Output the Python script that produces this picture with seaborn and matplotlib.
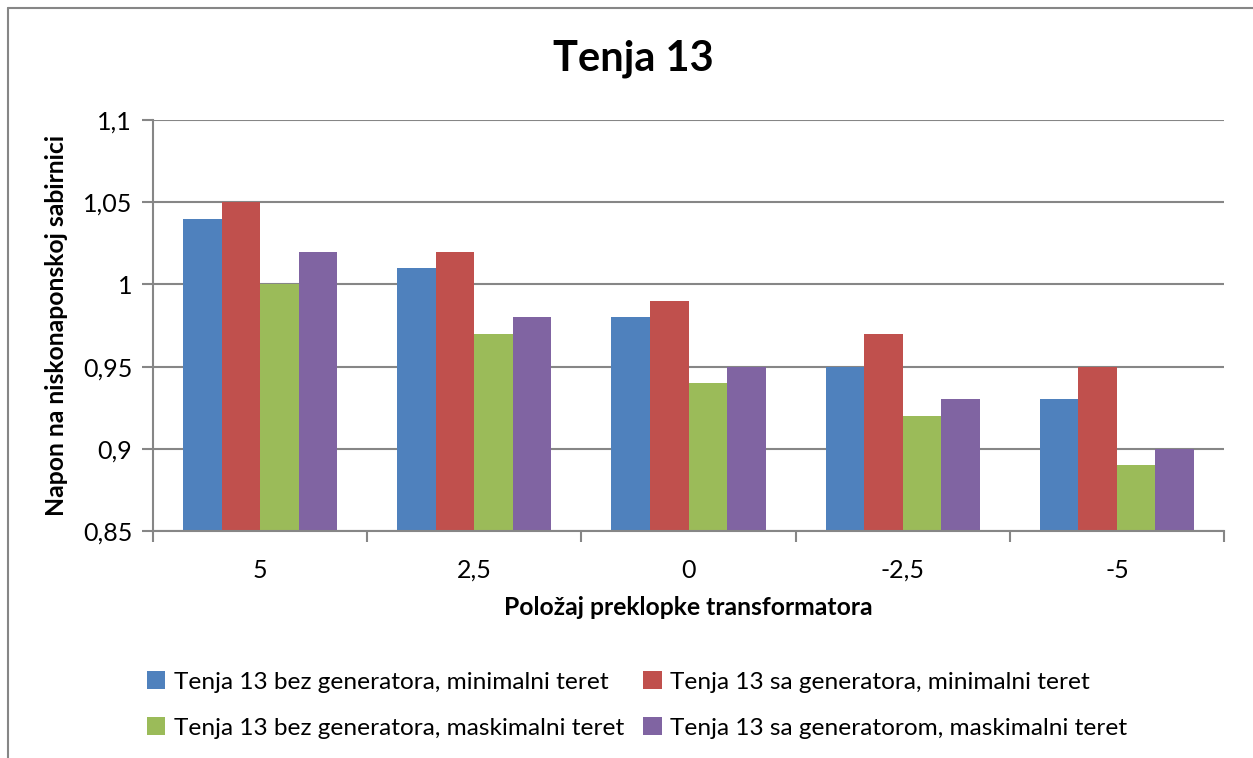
import matplotlib
matplotlib.use("Agg")
import matplotlib.pyplot as plt
from matplotlib.lines import Line2D
from matplotlib.patches import Patch
from matplotlib.ticker import FixedLocator, FuncFormatter
import seaborn as sns
import pandas as pd

categories = ["5", "2,5", "0", "-2,5", "-5"]
series_names = [
    "Tenja 13 bez generatora, minimalni teret",
    "Tenja 13 sa generatora, minimalni teret",
    "Tenja 13 bez generatora, maskimalni teret",
    "Tenja 13 sa generatorom, maskimalni teret",
]
bez_min = [1.04, 1.01, 0.98, 0.95, 0.93]
sa_min = [1.05, 1.02, 0.99, 0.97, 0.95]
bez_max = [1.00, 0.97, 0.94, 0.92, 0.89]
sa_max = [1.02, 0.98, 0.95, 0.93, 0.90]
y_ticks = [0.85, 0.9, 0.95, 1.0, 1.05, 1.1]

colors = ["#4F81BD", "#C0504D", "#9BBB59", "#8064A2"]

rows = []
for name, vals in zip(series_names, [bez_min, sa_min, bez_max, sa_max]):
    for c, v in zip(categories, vals):
        rows.append({"cat": c, "val": v, "series": name})
df = pd.DataFrame(rows)

sns.set_style("white")
plt.rcParams["font.family"] = ["Lato", "DejaVu Sans"]
plt.rcParams["text.color"] = "black"
plt.rcParams["xtick.color"] = "black"
plt.rcParams["ytick.color"] = "black"
plt.rcParams["axes.labelcolor"] = "black"

fig = plt.figure(figsize=(12.53, 7.58), dpi=100)
W, H = 1253, 758
ax = fig.add_axes([153 / W, 1 - 531 / H, (1224 - 153) / W, (531 - 120) / H])

sns.barplot(data=df, x="cat", y="val", hue="series", order=categories,
            hue_order=series_names, palette=colors, width=0.72,
            saturation=1, ax=ax, legend=False, edgecolor="none")

ax.set_ylim(0.85, 1.1)
ax.set_xlim(-0.5, 4.5)
ax.yaxis.set_major_locator(FixedLocator(y_ticks))
ax.yaxis.set_major_formatter(FuncFormatter(lambda v, p: ("%g" % round(v, 2)).replace(".", ",")))
ax.grid(axis="y", color="#868686", linewidth=1.5)
ax.set_axisbelow(True)
for s in ["top", "right"]:
    ax.spines[s].set_visible(False)
for s in ["left", "bottom"]:
    ax.spines[s].set_color("#868686")
    ax.spines[s].set_linewidth(1.5)

ax.tick_params(axis="y", which="major", length=8, width=1.5, color="#868686",
               labelsize=18, pad=7, left=True, labelcolor="black")
ax.tick_params(axis="x", which="major", length=0, labelsize=18, pad=20, labelcolor="black")
ax.set_xticks([i + 0.5 for i in range(-1, 5)], minor=True)
ax.tick_params(axis="x", which="minor", length=8, width=1.5, color="#868686", bottom=True)

ax.set_xlabel("Položaj preklopke transformatora", fontsize=17.8, fontweight="bold", labelpad=10)
ax.set_ylabel("Napon na niskonaponskoj sabirnici", fontsize=17.8, fontweight="bold", labelpad=11)

fig.text(633 / W, 1 - 59 / H, "Tenja 13", fontsize=30, fontweight="bold",
         ha="center", va="center")

handles = [Patch(facecolor=colors[i], edgecolor="none") for i in [0, 2, 1, 3]]
labels = [series_names[i] for i in [0, 2, 1, 3]]
fig.legend(handles, labels, ncol=2, loc="center", bbox_to_anchor=(637 / W, 1 - 705 / H),
           frameon=False, fontsize=17.6, handlelength=0.75, handleheight=0.75,
           handletextpad=0.35, columnspacing=0.8, labelspacing=1.0)

frame_c = "#868686"
fig.add_artist(Line2D([8 / W, 8 / W], [0, 1 - 8 / H], transform=fig.transFigure,
                      color=frame_c, linewidth=1.5))
fig.add_artist(Line2D([8 / W, 1], [1 - 8 / H, 1 - 8 / H], transform=fig.transFigure,
                      color=frame_c, linewidth=1.5))

fig.savefig("out.png", dpi=100)
